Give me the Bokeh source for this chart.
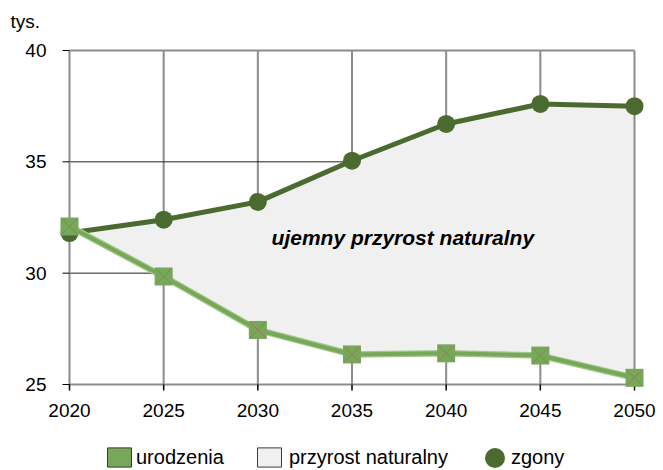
from bokeh.plotting import figure
from bokeh.models import Range1d, Label, Legend, LegendItem
from bokeh.embed import file_html
from bokeh.resources import INLINE
from bokeh.core.properties import value

# ---- data ----
years = [2020, 2025, 2030, 2035, 2040, 2045, 2050]
zgony = [31.8, 32.4, 33.2, 35.05, 36.7, 37.6, 37.5]
urodzenia = [32.1, 29.85, 27.45, 26.35, 26.4, 26.3, 25.3]
y_ticks = [25, 30, 35, 40]
x_tick_labels = [str(v) for v in years]
y_tick_labels = [str(v) for v in y_ticks]
unit_label = "tys."
area_label = "ujemny przyrost naturalny"
legend_labels = ["urodzenia", "przyrost naturalny", "zgony"]

# ---- styles / layout ----
FONT = "Liberation Sans"
GREEN = "#77a85a"
GREEN_EDGE = "#a3c88c"
DARK = "#4a6a30"
FILL = "#f0f0f0"
GRID_V = "#8c8c8c"
GRID_H = "#222222"

W, H = 663, 470
# pixel box of the plotting area (2020..2050, 25..40)
PL, PR, PT, PB = 69, 634, 50, 384

x0, x1 = years[0], years[-1]
y0, y1 = y_ticks[0], y_ticks[-1]
ppx = (PR - PL) / (x1 - x0)
ppy = (PB - PT) / (y1 - y0)
xr = Range1d(x0 - PL / ppx, x1 + (W - PR) / ppx)
yr = Range1d(y0 - (H - PB) / ppy, y1 + PT / ppy)

p = figure(width=W, height=H, output_backend="svg", toolbar_location=None,
           x_range=xr, y_range=yr, x_axis_location=None, y_axis_location=None,
           min_border=0)
p.outline_line_color = None
p.grid.visible = False
p.background_fill_color = "white"
p.border_fill_color = "white"

nv = len(years) - 2
nh = len(y_ticks) - 2
# grid under the area
p.segment(x0=years[1:-1], x1=years[1:-1], y0=[y0] * nv, y1=[y1] * nv,
          line_color=GRID_V, line_width=2)
p.segment(x0=[x0] * nh, x1=[x1] * nh, y0=y_ticks[1:-1], y1=y_ticks[1:-1],
          line_color=GRID_H, line_width=1)

# area between births and deaths
p.varea(x=years, y1=urodzenia, y2=zgony, fill_color=FILL)

# frame lines on top of area
p.segment(x0=[x0, x1, x0, x0], x1=[x0, x1, x1, x1],
          y0=[y0, y0, y1, y0], y1=[y1, y1, y1, y0],
          line_color=GRID_V, line_width=2)

# tick marks
tlx = 7 / ppx
tly = 6 / ppy
p.segment(x0=[x0 - tlx] * len(y_ticks), x1=[x0] * len(y_ticks), y0=y_ticks, y1=y_ticks,
          line_color="black", line_width=1)
p.segment(x0=years, x1=years, y0=[y0 - tly] * len(years), y1=[y0] * len(years),
          line_color="black", line_width=1.5)

# deaths
p.line(years, zgony, line_color=DARK, line_width=5)
p.scatter(years, zgony, marker="circle", size=18, fill_color=DARK, line_color=None)

# births
p.line(years, urodzenia, line_color=GREEN_EDGE, line_width=6.5)
p.line(years, urodzenia, line_color=GREEN, line_width=4)
p.scatter(years, urodzenia, marker="square", size=18, fill_color=GREEN, line_color=None)
p.scatter(years, urodzenia, marker="x", size=22, line_color="#c0504d",
          line_alpha=0.55, line_width=1)

# tick labels
p.text(x=years, y=[y0] * len(years), text=x_tick_labels, y_offset=26,
       text_align="center", text_baseline="middle", text_font=value(FONT),
       text_font_size="19px", text_color="black")
p.text(x=[x0] * len(y_ticks), y=y_ticks, text=y_tick_labels, x_offset=-23,
       text_align="right", text_baseline="middle", text_font=value(FONT),
       text_font_size="19px", text_color="black")

# unit label, top-left
p.text(x=[xr.start], y=[yr.end], text=[unit_label], x_offset=10, y_offset=21,
       text_align="left", text_baseline="middle", text_font=value(FONT),
       text_font_size="19px", text_color="black")

# area annotation
p.add_layout(Label(x=2037.7, y=31.6, text=area_label, text_font=FONT,
                   text_font_size="21px", text_font_style="bold italic",
                   text_align="center", text_baseline="middle", text_color="black"))

# legend swatches (renderers with a single NaN point: drawn only in the legend)
nan = float("nan")
r_leg_u = p.quad(left=[nan], right=[nan], top=[nan], bottom=[nan], fill_color=GREEN,
                 line_color="#3a3a3a", line_width=1)
r_leg_a = p.quad(left=[nan], right=[nan], top=[nan], bottom=[nan], fill_color=FILL,
                 line_color="#3a3a3a", line_width=1)
r_leg_z = p.ellipse(x=[nan], y=[nan], width=20, height=20, width_units="screen",
                    height_units="screen", fill_color=DARK, line_color=None)


def add_legend(label, rend, loc, gw, gh, standoff):
    lg = Legend(items=[LegendItem(label=label, renderers=[rend])], location=loc,
                glyph_width=gw, glyph_height=gh, label_standoff=standoff,
                padding=0, margin=0, border_line_color=None,
                background_fill_alpha=0, label_text_font=FONT,
                label_text_font_size="20px", label_text_color="black",
                label_height=19)
    p.add_layout(lg, "center")


add_legend(legend_labels[0], r_leg_u, (104, 1), 30, 24, 2)
add_legend(legend_labels[1], r_leg_a, (254, 1), 30, 24, 5)
add_legend(legend_labels[2], r_leg_z, (482, 0), 25, 25, 4)

open("out.html", "w").write(file_html(p, INLINE))
